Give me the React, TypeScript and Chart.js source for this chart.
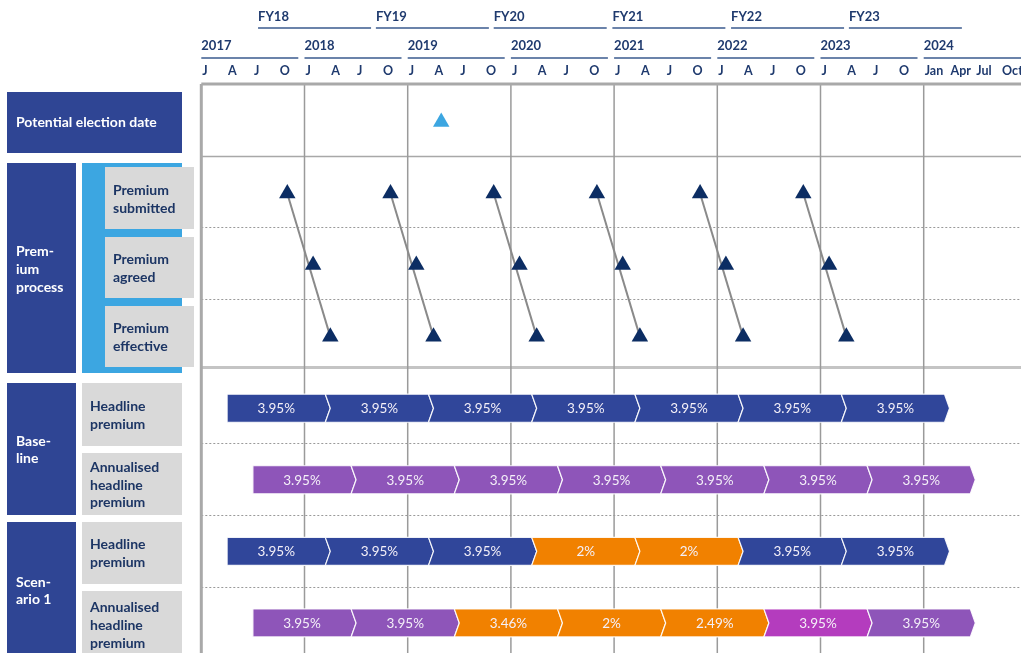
import React, { useEffect, useRef } from "react";
import { Chart, registerables } from "chart.js";

Chart.register(...registerables);

// ---------- DATA (x values = months since Jan 2017) ----------
const calendarYears = ["2017", "2018", "2019", "2020", "2021", "2022", "2023", "2024"];
const quarterLetters = ["J", "A", "J", "O"];
const quarterLetters2024 = ["Jan", "Apr", "Jul", "Oct"];
const fiscalYears = ["FY18", "FY19", "FY20", "FY21", "FY22", "FY23"];
const fiscalStarts = [6.6, 20.3, 34.0, 47.8, 61.6, 75.3];

const electionDates = [27.9];
const premiumSubmitted = [10, 22, 34, 46, 58, 70];
const premiumAgreed = [13, 25, 37, 49, 61, 73];
const premiumEffective = [15, 27, 39, 51, 63, 75];

const headlineBounds = [3, 15, 27, 39, 51, 63, 75, 87];
const annualisedBounds = [6, 18, 30, 42, 54, 66, 78, 90];

const baselineHeadline = [3.95, 3.95, 3.95, 3.95, 3.95, 3.95, 3.95];
const baselineAnnualised = [3.95, 3.95, 3.95, 3.95, 3.95, 3.95, 3.95];
const scenarioHeadline = [3.95, 3.95, 3.95, 2, 2, 3.95, 3.95];
const scenarioAnnualised = [3.95, 3.95, 3.46, 2, 2.49, 3.95, 3.95];

const baselineHeadlineKinds = ["std", "std", "std", "std", "std", "std", "std"];
const baselineAnnualisedKinds = ["std", "std", "std", "std", "std", "std", "std"];
const scenarioHeadlineKinds = ["std", "std", "std", "cut", "cut", "std", "std"];
const scenarioAnnualisedKinds = ["std", "std", "cut", "cut", "cut", "catch", "std"];

// ---------- STYLE / LAYOUT ----------
const W = 1021;
const H = 653;
const PLOT_LEFT = 201.3;
const PLOT_TOP = 84;
const PX_PER_MONTH = 8.6;
const X_MAX = (W - PLOT_LEFT) / PX_PER_MONTH;

const LANE = { election: 0, submitted: 1, agreed: 2, effective: 3, bHead: 4, bAnn: 5, sHead: 6, sAnn: 7 };

const NAVY_BAR = "#30469a";
const PURPLE = "#8e55b9";
const ORANGE = "#f18100";
const MAGENTA = "#b43cbe";
const NAVY_BOX = "#2f4594";
const LIGHT_BLUE = "#3ca6e1";
const GRAY_BOX = "#d9d9d9";
const LABEL_NAVY = "#1c3564";
const HEAD_NAVY = "#1f3a6e";
const HEAD_LINE = "#3a5a8e";
const TRI = "#0c2d63";

const FONT = "Lato, 'Open Sans', sans-serif";

const barRows = [
  { lane: LANE.bHead, bounds: headlineBounds, values: baselineHeadline, kinds: baselineHeadlineKinds, std: NAVY_BAR },
  { lane: LANE.bAnn, bounds: annualisedBounds, values: baselineAnnualised, kinds: baselineAnnualisedKinds, std: PURPLE },
  { lane: LANE.sHead, bounds: headlineBounds, values: scenarioHeadline, kinds: scenarioHeadlineKinds, std: NAVY_BAR },
  { lane: LANE.sAnn, bounds: annualisedBounds, values: scenarioAnnualised, kinds: scenarioAnnualisedKinds, std: PURPLE },
];

const separators = [
  { at: 0.475, kind: "solid" },
  { at: 1.47, kind: "dot" },
  { at: 2.475, kind: "dot" },
  { at: 3.425, kind: "thick" },
  { at: 4.485, kind: "dot" },
  { at: 5.49, kind: "dot" },
  { at: 6.5, kind: "dot" },
];

const panelBoxes = [
  { x: 7, y: 92, w: 175, h: 61, fill: NAVY_BOX },
  { x: 7, y: 163, w: 69, h: 210, fill: NAVY_BOX },
  { x: 82, y: 163, w: 100, h: 210, fill: LIGHT_BLUE },
  { x: 105, y: 167, w: 89, h: 62, fill: GRAY_BOX },
  { x: 105, y: 237, w: 89, h: 61, fill: GRAY_BOX },
  { x: 105, y: 306, w: 89, h: 61, fill: GRAY_BOX },
  { x: 7, y: 383, w: 69, h: 132, fill: NAVY_BOX },
  { x: 82, y: 383, w: 100, h: 63, fill: GRAY_BOX },
  { x: 82, y: 453, w: 100, h: 62, fill: GRAY_BOX },
  { x: 7, y: 522, w: 69, h: 140, fill: NAVY_BOX },
  { x: 82, y: 522, w: 100, h: 62, fill: GRAY_BOX },
  { x: 82, y: 591, w: 100, h: 70, fill: GRAY_BOX },
];

const panelTexts = [
  { x: 16, ys: [122], lines: ["Potential election date"], color: "#ffffff" },
  { x: 16, ys: [251, 269, 287], lines: ["Prem-", "ium", "process"], color: "#ffffff" },
  { x: 113, ys: [190, 208], lines: ["Premium", "submitted"], color: LABEL_NAVY },
  { x: 113, ys: [259, 277], lines: ["Premium", "agreed"], color: LABEL_NAVY },
  { x: 113, ys: [328, 346], lines: ["Premium", "effective"], color: LABEL_NAVY },
  { x: 16, ys: [441, 458], lines: ["Base-", "line"], color: "#ffffff" },
  { x: 90, ys: [406, 424], lines: ["Headline", "premium"], color: LABEL_NAVY },
  { x: 90, ys: [467, 485, 502], lines: ["Annualised", "headline", "premium"], color: LABEL_NAVY },
  { x: 16, ys: [582, 599], lines: ["Scen-", "ario 1"], color: "#ffffff" },
  { x: 90, ys: [544, 562], lines: ["Headline", "premium"], color: LABEL_NAVY },
  { x: 90, ys: [607, 625, 643], lines: ["Annualised", "headline", "premium"], color: LABEL_NAVY },
];

function kindColor(kind: string, std: string) {
  if (kind === "cut") return ORANGE;
  if (kind === "catch") return MAGENTA;
  return std;
}

const ganttPlugin = {
  id: "gantt",
  beforeDatasetsDraw(chart: any) {
    const ctx = chart.ctx as CanvasRenderingContext2D;
    const xs = chart.scales.x;
    const ys = chart.scales.y;
    const area = chart.chartArea;
    ctx.save();

    // horizontal separators
    separators.forEach((s) => {
      const y = Math.round(ys.getPixelForValue(s.at)) + 0.5;
      ctx.beginPath();
      if (s.kind === "dot") {
        ctx.setLineDash([2, 2]);
        ctx.strokeStyle = "#9a9a9a";
        ctx.lineWidth = 1;
      } else if (s.kind === "thick") {
        ctx.setLineDash([]);
        ctx.strokeStyle = "#c4c4c4";
        ctx.lineWidth = 3;
      } else {
        ctx.setLineDash([]);
        ctx.strokeStyle = "#a8a8a8";
        ctx.lineWidth = 1.5;
      }
      ctx.moveTo(area.left, y);
      ctx.lineTo(W, y);
      ctx.stroke();
    });
    ctx.setLineDash([]);

    // vertical year lines
    ctx.strokeStyle = "#9a9a9a";
    ctx.lineWidth = 1.5;
    for (let k = 1; k < calendarYears.length; k++) {
      const x = xs.getPixelForValue(12 * k);
      ctx.beginPath();
      ctx.moveTo(x, area.top);
      ctx.lineTo(x, H);
      ctx.stroke();
    }

    // borders
    ctx.strokeStyle = "#a9a9a9";
    ctx.lineWidth = 3;
    ctx.beginPath();
    ctx.moveTo(area.left, area.top);
    ctx.lineTo(W, area.top);
    ctx.moveTo(area.left, area.top);
    ctx.lineTo(area.left, H);
    ctx.stroke();

    // chevron bars
    const depth = 5;
    barRows.forEach((row) => {
      const top = ys.getPixelForValue(row.lane - 0.196);
      const bot = ys.getPixelForValue(row.lane + 0.196);
      const mid = (top + bot) / 2;
      for (let i = 0; i < row.values.length; i++) {
        const x0 = xs.getPixelForValue(row.bounds[i]);
        const x1 = xs.getPixelForValue(row.bounds[i + 1]);
        ctx.beginPath();
        if (i === 0) {
          ctx.moveTo(x0, top);
        } else {
          ctx.moveTo(x0 - depth, top);
        }
        ctx.lineTo(x1 - depth, top);
        ctx.lineTo(x1, mid);
        ctx.lineTo(x1 - depth, bot);
        if (i === 0) {
          ctx.lineTo(x0, bot);
        } else {
          ctx.lineTo(x0 - depth, bot);
          ctx.lineTo(x0, mid);
        }
        ctx.closePath();
        ctx.fillStyle = kindColor(row.kinds[i], row.std);
        ctx.fill();
        ctx.strokeStyle = "rgba(255,255,255,0.9)";
        ctx.lineWidth = 1.2;
        ctx.stroke();

        ctx.fillStyle = "#f4f0f8";
        ctx.font = `13.5px ${FONT}`;
        ctx.textAlign = "center";
        ctx.textBaseline = "middle";
        ctx.fillText(`${row.values[i]}%`, (x0 + x1 - depth) / 2, mid + 0.5);
      }
    });
    ctx.restore();
  },
  afterDraw(chart: any) {
    const ctx = chart.ctx as CanvasRenderingContext2D;
    const xs = chart.scales.x;
    ctx.save();

    // Fiscal year header
    ctx.fillStyle = HEAD_NAVY;
    ctx.font = `bold 13px ${FONT}`;
    ctx.textAlign = "left";
    ctx.textBaseline = "middle";
    fiscalYears.forEach((fy, i) => {
      const x = xs.getPixelForValue(fiscalStarts[i]);
      ctx.fillText(fy, x, 17);
      ctx.strokeStyle = HEAD_LINE;
      ctx.lineWidth = 1.5;
      ctx.beginPath();
      ctx.moveTo(x, 28);
      ctx.lineTo(x + 113, 28);
      ctx.stroke();
    });

    // calendar years
    calendarYears.forEach((yr, k) => {
      const x = xs.getPixelForValue(12 * k);
      ctx.fillStyle = HEAD_NAVY;
      ctx.font = `bold 13px ${FONT}`;
      ctx.fillText(yr, x, 46);
      ctx.strokeStyle = HEAD_LINE;
      ctx.lineWidth = 1.5;
      ctx.beginPath();
      ctx.moveTo(x, 58);
      ctx.lineTo(k === calendarYears.length - 1 ? W : x + 97, 58);
      ctx.stroke();

      const letters = k === calendarYears.length - 1 ? quarterLetters2024 : quarterLetters;
      ctx.font = `bold 12.5px ${FONT}`;
      letters.forEach((l, q) => {
        const qx = xs.getPixelForValue(12 * k + 3 * q);
        ctx.fillText(l, qx + 1, 71);
      });
    });

    // left panel
    panelBoxes.forEach((b) => {
      ctx.fillStyle = b.fill;
      ctx.fillRect(b.x, b.y, b.w, b.h);
    });
    ctx.font = `bold 14px ${FONT}`;
    ctx.textAlign = "left";
    ctx.textBaseline = "middle";
    panelTexts.forEach((t) => {
      ctx.fillStyle = t.color;
      t.lines.forEach((line, i) => ctx.fillText(line, t.x, t.ys[i]));
    });
    ctx.restore();
  },
};

export default function App() {
  const ref = useRef<HTMLCanvasElement | null>(null);
  useEffect(() => {
    document.body.style.margin = "0";
    const canvas = ref.current;
    if (!canvas) return;

    const tri = (data: number[], lane: number, color: string, r: number) => ({
      data: data.map((x) => ({ x, y: lane })),
      pointStyle: "triangle",
      pointRadius: r,
      pointBackgroundColor: color,
      pointBorderWidth: 0,
      showLine: false,
      order: 1,
    });

    const links = premiumSubmitted.map((s, i) => ({
      data: [
        { x: s, y: LANE.submitted },
        { x: premiumEffective[i], y: LANE.effective },
      ],
      showLine: true,
      borderColor: "#8a8a8a",
      borderWidth: 2,
      pointRadius: 0,
      order: 5,
    }));

    const chart = new Chart(canvas, {
      type: "scatter",
      data: {
        datasets: [
          tri(electionDates, LANE.election, LIGHT_BLUE, 9.5),
          tri(premiumSubmitted, LANE.submitted, TRI, 9.5),
          tri(premiumAgreed, LANE.agreed, TRI, 9.5),
          tri(premiumEffective, LANE.effective, TRI, 9.5),
          ...links,
        ] as any,
      },
      options: {
        animation: false,
        responsive: false,
        devicePixelRatio: 1,
        layout: { autoPadding: false, padding: { left: PLOT_LEFT, top: PLOT_TOP, right: 0, bottom: 0 } },
        scales: {
          x: { type: "linear", min: 0, max: X_MAX, display: false },
          y: { type: "linear", min: -0.53, max: 7.42, reverse: true, display: false },
        },
        plugins: { legend: { display: false }, tooltip: { enabled: false } },
      } as any,
      plugins: [ganttPlugin],
    });
    return () => chart.destroy();
  }, []);

  return (
    <div style={{ position: "absolute", left: 0, top: 0, width: W, height: H, overflow: "hidden", background: "#ffffff" }}>
      <canvas ref={ref} width={W} height={H} style={{ display: "block" }} />
    </div>
  );
}
